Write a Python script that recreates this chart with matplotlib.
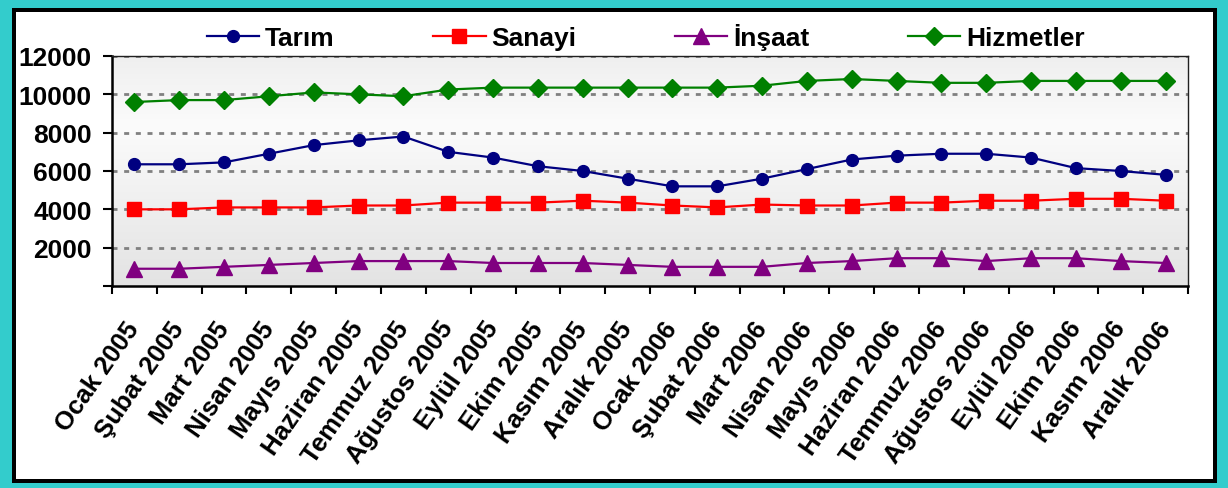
import numpy as np
import matplotlib
matplotlib.use("Agg")
from matplotlib import pyplot as plt
from matplotlib.patches import Rectangle
from matplotlib.colors import LinearSegmentedColormap

plt.rcParams['font.family'] = ['Liberation Sans', 'DejaVu Sans']
plt.rcParams['font.weight'] = 'bold'

months = ["Ocak 2005", "Şubat 2005", "Mart 2005", "Nisan 2005", "Mayıs 2005",
          "Haziran 2005", "Temmuz 2005", "Ağustos 2005", "Eylül 2005", "Ekim 2005",
          "Kasım 2005", "Aralık 2005", "Ocak 2006", "Şubat 2006", "Mart 2006",
          "Nisan 2006", "Mayıs 2006", "Haziran 2006", "Temmuz 2006", "Ağustos 2006",
          "Eylül 2006", "Ekim 2006", "Kasım 2006", "Aralık 2006"]

tarim = [6350, 6350, 6450, 6900, 7350, 7600, 7800, 7000, 6700, 6250, 6000, 5600,
         5200, 5200, 5600, 6100, 6600, 6800, 6900, 6900, 6700, 6150, 6000, 5800]
sanayi = [4000, 4000, 4100, 4100, 4100, 4200, 4200, 4350, 4350, 4350, 4450, 4350,
          4200, 4100, 4250, 4200, 4200, 4350, 4350, 4450, 4450, 4550, 4550, 4450]
insaat = [900, 900, 1000, 1100, 1200, 1300, 1300, 1300, 1200, 1200, 1200, 1100,
          1000, 1000, 1000, 1200, 1300, 1450, 1450, 1300, 1450, 1450, 1300, 1200]
hizmetler = [9600, 9700, 9700, 9900, 10100, 10000, 9900, 10250, 10350, 10350, 10350, 10350,
             10350, 10350, 10450, 10700, 10800, 10700, 10600, 10600, 10700, 10700, 10700, 10700]

yticks = [0, 2000, 4000, 6000, 8000, 10000, 12000]
ytick_labels = ["", "2000", "4000", "6000", "8000", "10000", "12000"]

W, H = 1228, 489
fig = plt.figure(figsize=(W / 100, H / 100), dpi=100, facecolor='#33CCCC')

# frame: teal outside, black line, white inside
fig.add_artist(Rectangle((12 / W, (H - 484) / H), (1217 - 12) / W, (484 - 9) / H,
                         transform=fig.transFigure, facecolor='black', edgecolor='none', zorder=-2))
fig.add_artist(Rectangle((16 / W, (H - 480) / H), (1213 - 16) / W, (480 - 13) / H,
                         transform=fig.transFigure, facecolor='white', edgecolor='none', zorder=-1))

ax = fig.add_axes([112 / W, (H - 287) / H, (1188 - 112) / W, (287 - 57) / H])
ax.set_facecolor('none')

# plot area gradient
grad = LinearSegmentedColormap.from_list('g', [(0, '#e3e3e3'), (0.7, '#fbfbfb'), (1, '#efefef')])
ax.imshow(np.linspace(0, 1, 256).reshape(-1, 1), cmap=grad, origin='lower', aspect='auto',
          extent=[0, 1, 0, 1], transform=ax.transAxes, zorder=0)

x = np.arange(len(months))
ax.plot(x, tarim, color='#000080', lw=1.6, marker='o', ms=8.5, label='Tarım', zorder=3)
ax.plot(x, sanayi, color='#FF0000', lw=1.6, marker='s', ms=10.5, label='Sanayi', zorder=3)
ax.plot(x, insaat, color='#800080', lw=1.6, marker='^', ms=11, label='İnşaat', zorder=3)
ax.plot(x, hizmetler, color='#008000', lw=1.6, marker='D', ms=9.5, label='Hizmetler', zorder=3)

ax.set_xlim(-0.5, len(months) - 0.5)
ax.set_ylim(0, 12000)

for yv in yticks[1:]:
    ax.axhline(yv, color='#808080', lw=2.0, ls=(0, (1.8, 2.4)), zorder=1)

ax.set_yticks(yticks)
ax.set_yticklabels(ytick_labels, fontsize=19, fontweight='bold')
ax.tick_params(axis='y', direction='out', length=6.5, width=1.5, pad=8)

ax.set_xticks(x)
ax.set_xticklabels(months, rotation=55, ha='right', va='center', rotation_mode='anchor',
                   fontsize=18.5, fontweight='bold')
ax.set_xticks(np.arange(-0.5, len(months)), minor=True)
ax.tick_params(axis='x', which='major', length=0, pad=27)
ax.tick_params(axis='x', which='minor', direction='out', length=6, width=1.5)

for s in ['left', 'bottom']:
    ax.spines[s].set_linewidth(1.8)
for s in ['top', 'right']:
    ax.spines[s].set_linewidth(1.0)
    ax.spines[s].set_color('#202020')

ax.legend(loc='center', bbox_to_anchor=(0.496, 1.083), ncol=4, frameon=False,
          prop={'size': 19, 'weight': 'bold'}, handlelength=2.0, handletextpad=0.22,
          columnspacing=3.72, borderaxespad=0.0, borderpad=0.0)

fig.savefig('out.png', dpi=100, facecolor=fig.get_facecolor())
